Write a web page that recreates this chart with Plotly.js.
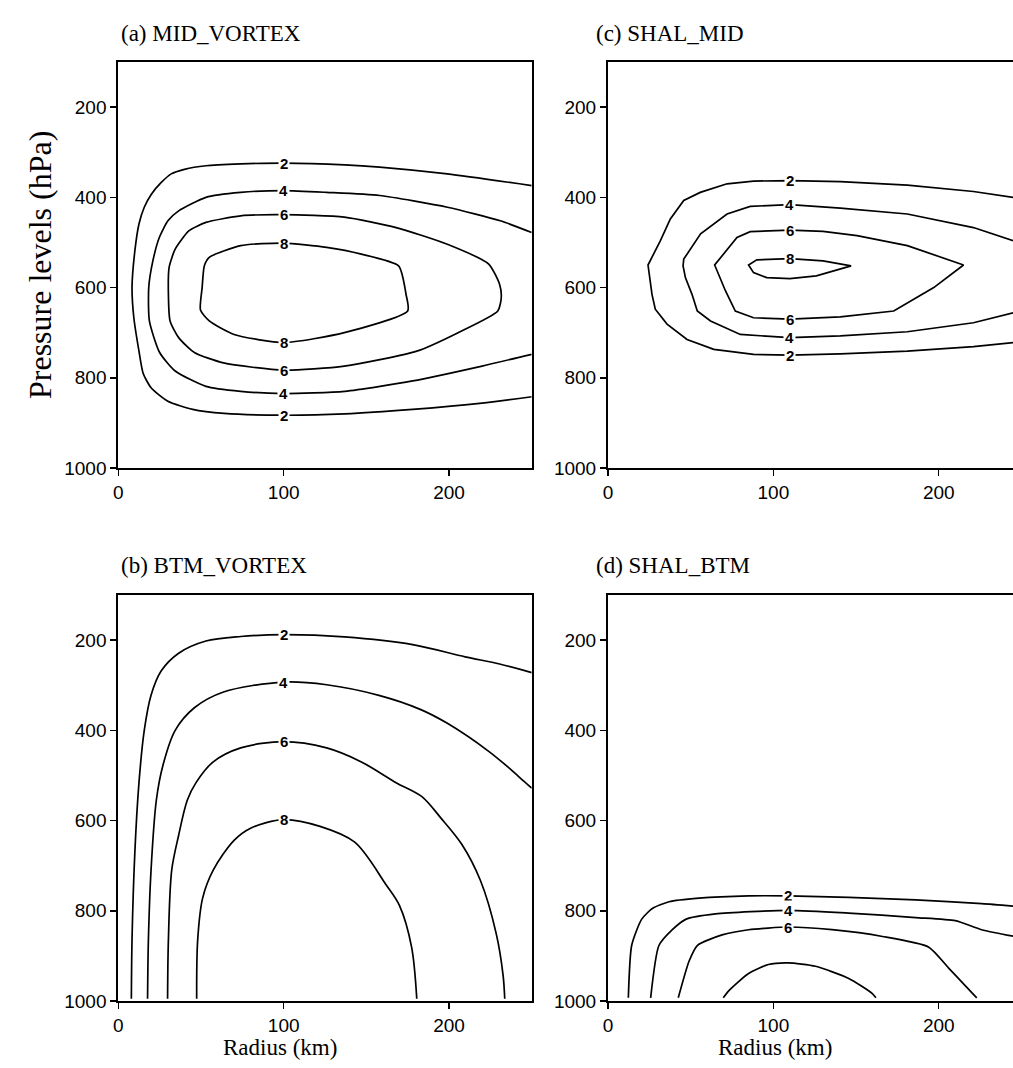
<!DOCTYPE html>
<html><head><meta charset="utf-8">
<script src="https://cdn.plot.ly/plotly-3.0.1.min.js"></script>
<style>html,body{margin:0;padding:0;overflow:hidden;background:#fff}#chart{width:1022px;height:1068px}</style>
</head><body><div id="chart"></div>
<script>
// ---------- Data (radius in km, pressure in hPa) ----------
const panelTitles = ["(a) MID_VORTEX", "(c) SHAL_MID", "(b) BTM_VORTEX", "(d) SHAL_BTM"];
const xTicks = [0, 100, 200];
const yTicks = [200, 400, 600, 800, 1000];

// (a) MID_VORTEX
const A2_r = [250, 199, 158, 137, 100, 74, 53, 40, 32, 26, 20, 15.7, 12.5, 10, 8.3, 9.4, 12.5, 15, 19.8, 30, 45, 64, 100, 137, 178, 220, 250];
const A2_p = [374, 348, 333, 328, 324, 326, 330, 338, 348, 367, 393, 422, 459, 519, 600, 667, 741, 790, 822, 852, 870, 879, 883, 880, 870, 856, 842];
const A4_r = [250, 231, 199, 158, 126, 100, 74, 53, 36.5, 30, 24.8, 20.9, 18.4, 18.8, 25, 34.4, 53, 74, 100, 137, 178, 220, 250];
const A4_p = [478, 452, 422, 396, 389, 385, 389, 400, 430, 452, 489, 541, 600, 674, 744, 785, 819, 830, 835, 830, 807, 774, 748];
const A6_r = [100, 74, 53, 42.8, 34.4, 30.7, 30.3, 31.3, 36.5, 46, 63.6, 100, 136.7, 180.5, 205.5, 229.5, 231.6, 230.6, 224, 199, 168, 136.7, 100];
const A6_p = [438.5, 441, 455.6, 474, 515, 555.6, 615, 674, 711, 744, 767, 783, 774, 741, 700, 652, 622, 593, 548, 504, 467, 444, 438.5];
const A8_r = [100, 74, 55, 52, 50.7, 49.7, 55, 70, 100, 136.7, 175, 174, 169.5, 147, 126, 100];
const A8_p = [501.5, 507, 533, 552, 600, 650, 674, 704, 722, 700, 652, 615, 552, 526, 511, 501.5];
const A_lab_r = [100, 100, 100, 100, 100, 100, 100, 100];
const A_lab_p = [324, 385, 438.5, 501.5, 722, 783, 835, 883];
const A_lab_t = ["2", "4", "6", "8", "8", "6", "4", "2"];

// (c) SHAL_MID
const C2_r = [245, 221, 181, 140.5, 110, 88, 72, 55.8, 45.8, 37.7, 31.7, 24.2, 26.6, 28.6, 35.7, 47.8, 64, 88, 110, 140.5, 181, 221, 245];
const C2_p = [400, 387, 373, 365, 363, 364, 370, 389, 407, 448, 496, 550, 615, 648, 681, 715, 737, 748, 750, 747, 741, 731, 722];
const C4_r = [245, 221, 181, 140.5, 110, 86, 72, 56, 45.8, 45.4, 46.8, 50.8, 54, 62, 80, 110, 140.5, 181, 221, 245];
const C4_p = [496, 467, 437, 424, 416, 420, 437, 481, 537, 552, 578, 615, 652, 674, 704, 711, 707, 698, 678, 656];
const C6_r = [110, 86, 78, 64.5, 71, 77, 88, 110, 140.5, 172.8, 197, 215, 181, 150.6, 130, 110];
const C6_p = [472.6, 476, 489, 550, 607, 652, 667, 670, 665, 652, 600, 550, 507, 485, 475.6, 472.6];
const C8_r = [110, 90, 85, 88, 96, 110, 126, 147, 130, 110];
const C8_p = [536, 538.5, 550, 567, 578, 580, 574, 552, 541, 536];
const C_lab_r = [110, 110, 110, 110, 110, 110, 110];
const C_lab_p = [363, 416, 472.6, 536, 670, 711, 750];
const C_lab_t = ["2", "4", "6", "8", "6", "4", "2"];

// (b) BTM_VORTEX
const B2_r = [7.9, 8.3, 10, 12.5, 15.7, 19.8, 26, 36.5, 53, 74, 100, 136.7, 178, 209.7, 230.6, 250];
const B2_p = [995, 865, 671, 516, 400, 322, 268, 229, 202, 192, 188, 193, 210, 237, 253, 272];
const B4_r = [17.7, 18.2, 19.8, 23, 27, 34.4, 46, 63.6, 100, 126, 157.6, 182.6, 199, 224, 236.8, 245, 250];
const B4_p = [995, 865, 710, 555, 477.5, 400, 350, 315, 293, 299, 322.5, 353.5, 384.5, 446.5, 485, 512, 528];
const B6_r = [29.8, 30.3, 32.3, 36.5, 41.7, 47, 57.4, 74, 100, 126, 147, 168, 183.6, 195, 207.6, 219, 228.5, 232.7, 233.7];
const B6_p = [995, 865, 710, 632.5, 555, 516, 470, 439, 425, 439, 470, 516, 547, 594, 652, 733, 850, 943, 995];
const B8_r = [47.4, 48, 51, 57.4, 70, 80, 100, 122, 143, 161.7, 170, 177.4, 180.5];
const B8_p = [995, 865, 772, 710, 644, 617, 598, 613, 648, 741, 788, 881, 995];
const B_lab_r = [100, 100, 100, 100];
const B_lab_p = [188, 293, 425, 598];
const B_lab_t = ["2", "4", "6", "8"];

// (d) SHAL_BTM
const D2_r = [12.3, 14.3, 20.3, 26.8, 36.9, 55, 85, 109, 145.6, 186, 226, 250];
const D2_p = [993, 877, 819, 795, 780, 772, 767, 767, 770.5, 776, 784, 791];
const D4_r = [25.8, 30.8, 38.9, 47, 65, 109, 145.6, 186, 210, 226, 250];
const D4_p = [993, 877, 842, 819, 807, 799, 805, 815, 822, 842, 860];
const D6_r = [42.5, 49, 54, 69, 85, 109, 135.5, 166, 194, 206, 216, 223];
const D6_p = [993, 912, 877, 853.5, 842, 836, 842, 857, 880.6, 927, 966, 993];
const D8_r = [69.7, 73, 85, 97, 109, 125.5, 145.6, 159.7, 162];
const D8_p = [993, 977.5, 939, 919, 915.5, 923, 950, 983, 993];
const D_lab_r = [109, 109, 109];
const D_lab_p = [767, 799, 836];
const D_lab_t = ["2", "4", "6"];

// ---------- Layout helpers ----------
const W = 1022, H = 1068;
const fx = v => v / W;
const fy = v => 1 - v / H;
const panels = [
  {xa: "x",  ya: "y",  left: 118.3, right: 531.7, top: 62,  bottom: 468, shape: "spline", smooth: 0.6,
   lines: [[A2_r, A2_p], [A4_r, A4_p], [A6_r, A6_p], [A8_r, A8_p]], lab: [A_lab_r, A_lab_p, A_lab_t], title: panelTitles[0], tx: 119, ty: 34},
  {xa: "x2", ya: "y2", left: 608, right: 1021.4, top: 62,  bottom: 468, shape: "linear", smooth: 0,
   lines: [[C2_r, C2_p], [C4_r, C4_p], [C6_r, C6_p], [C8_r, C8_p]], lab: [C_lab_r, C_lab_p, C_lab_t], title: panelTitles[1], tx: 594, ty: 34},
  {xa: "x3", ya: "y3", left: 118.3, right: 531.7, top: 595, bottom: 1001, shape: "spline", smooth: 0.9,
   lines: [[B2_r, B2_p], [B4_r, B4_p], [B6_r, B6_p], [B8_r, B8_p]], lab: [B_lab_r, B_lab_p, B_lab_t], title: panelTitles[2], tx: 119, ty: 565},
  {xa: "x4", ya: "y4", left: 608, right: 1021.4, top: 595, bottom: 1001, shape: "spline", smooth: 0.6,
   lines: [[D2_r, D2_p], [D4_r, D4_p], [D6_r, D6_p], [D8_r, D8_p]], lab: [D_lab_r, D_lab_p, D_lab_t], title: panelTitles[3], tx: 594, ty: 565}
];

const traces = [];
const annotations = [];
const layout = {
  width: W, height: H,
  margin: {l: 0, r: 0, t: 0, b: 0},
  paper_bgcolor: "#fff", plot_bgcolor: "#fff",
  showlegend: false,
  font: {family: "Liberation Sans", color: "#000"}
};
const tickFont = {family: "Liberation Sans", size: 19, color: "#000"};

panels.forEach((pn, i) => {
  const xn = i === 0 ? "xaxis" : "xaxis" + (i + 1);
  const yn = i === 0 ? "yaxis" : "yaxis" + (i + 1);
  layout[xn] = {
    domain: [fx(pn.left), fx(pn.right)], anchor: pn.ya, range: [0, 250],
    tickvals: xTicks, ticks: "outside", ticklen: 6, tickwidth: 1.5, tickcolor: "#000",
    showline: true, mirror: true, linecolor: "#000", linewidth: 2,
    showgrid: false, zeroline: false, tickfont: tickFont, fixedrange: true
  };
  layout[yn] = {
    domain: [fy(pn.bottom), fy(pn.top)], anchor: pn.xa, range: [1000, 100],
    tickvals: yTicks, ticks: "outside", ticklen: 6, tickwidth: 1.5, tickcolor: "#000",
    showline: true, mirror: true, linecolor: "#000", linewidth: 2,
    showgrid: false, zeroline: false, tickfont: tickFont, fixedrange: true
  };
  pn.lines.forEach(([r, p]) => {
    const line = {color: "#000", width: 1.7, shape: pn.shape};
    if (pn.shape === "spline") line.smoothing = pn.smooth;
    traces.push({type: "scatter", mode: "lines", x: r, y: p, xaxis: pn.xa, yaxis: pn.ya,
      line: line, hoverinfo: "skip", showlegend: false});
  });
  const [lr, lp, lt] = pn.lab;
  lr.forEach((r, k) => {
    annotations.push({x: r, y: lp[k], xref: pn.xa, yref: pn.ya, text: "<b>" + lt[k] + "</b>",
      showarrow: false, bgcolor: "#fff", borderpad: 1,
      font: {family: "Liberation Sans", size: 15, color: "#000"}});
  });
  annotations.push({x: fx(pn.tx), y: fy(pn.ty), xref: "paper", yref: "paper", xanchor: "left", yanchor: "middle",
    text: pn.title, showarrow: false, font: {family: "Liberation Serif", size: 23, color: "#000"}});
});

annotations.push({x: fx(40), y: fy(265), xref: "paper", yref: "paper", xanchor: "center", yanchor: "middle",
  text: "Pressure levels (hPa)", textangle: -90, showarrow: false,
  font: {family: "Liberation Serif", size: 32, color: "#000"}});
annotations.push({x: fx(280), y: fy(1047), xref: "paper", yref: "paper", xanchor: "center", yanchor: "middle",
  text: "Radius (km)", showarrow: false, font: {family: "Liberation Serif", size: 23, color: "#000"}});
annotations.push({x: fx(775), y: fy(1047), xref: "paper", yref: "paper", xanchor: "center", yanchor: "middle",
  text: "Radius (km)", showarrow: false, font: {family: "Liberation Serif", size: 23, color: "#000"}});

layout.annotations = annotations;
Plotly.newPlot("chart", traces, layout, {staticPlot: true, displayModeBar: false});
</script></body></html>
